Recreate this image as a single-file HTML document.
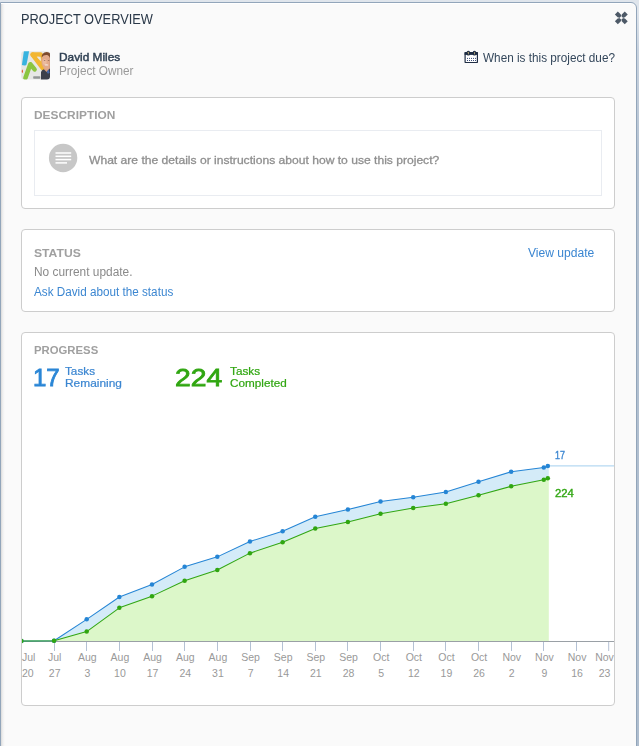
<!DOCTYPE html>
<html><head><meta charset="utf-8"><title>Project Overview</title>
<style>
html,body{margin:0;padding:0}
body{width:639px;height:746px;overflow:hidden;position:relative;background:#dfe5ec;font-family:"Liberation Sans", sans-serif}
.panel{position:absolute;left:0;top:2px;width:635px;height:760px;border:1px solid #92a5ba;border-top-right-radius:6px;background:#fafafa;box-shadow:inset 0 1px 0 #fff}
.edge{position:absolute;left:637px;top:0;width:2px;height:746px;background:linear-gradient(#dfe5ec 0,#dfe5ec 12px,#c9d3df 50px,#b3c1d1 160px,#aebdce 100%)}
.lsh{position:absolute;left:1px;top:4px;width:4px;height:742px;background:linear-gradient(90deg,rgba(0,0,0,.13),rgba(0,0,0,.04) 45%,rgba(0,0,0,0))}
.card{position:absolute;left:21px;width:592px;border:1px solid #cdcdcd;border-radius:4px;background:#fff}
.inner{position:absolute;left:34px;top:130px;width:566px;height:64px;border:1px solid #e9ecf1;background:#fff}
.ax{position:absolute;left:0;top:645px;width:614px;height:40px;overflow:hidden}
.t{position:absolute;white-space:nowrap;transform-origin:0 0;display:block}
svg{position:absolute;left:0;top:0}
</style></head>
<body>
<div class="panel"></div>
<div class="edge"></div>
<div class="lsh"></div>
<div class="card" style="top:97px;height:110px"></div>
<div class="inner"></div>
<div class="card" style="top:229px;height:81px"></div>
<div class="card" style="top:332px;height:372px"></div>
<svg width="639" height="746" viewBox="0 0 639 746">
<defs><clipPath id="cc"><rect x="22" y="333" width="592" height="372"/></clipPath></defs>
<g clip-path="url(#cc)">
<polygon points="21.40,640.95 54.05,640.75 86.70,631.55 119.35,607.85 152.00,596.15 184.65,580.75 217.30,570.05 249.95,553.15 282.60,542.15 315.25,528.45 347.90,521.90 380.55,513.85 413.20,508.05 445.85,503.75 478.50,495.15 511.15,486.35 543.80,479.85 547.80,478.30 548.8,478.30 548.8,641.5 21.5,641.5" fill="#dcf7c9"/>
<polygon points="21.40,640.95 54.05,640.75 86.70,619.35 119.35,596.95 152.00,584.45 184.65,566.85 217.30,556.85 249.95,541.45 282.60,531.25 315.25,516.85 347.90,509.60 380.55,501.45 413.20,497.15 445.85,492.00 478.50,481.85 511.15,471.75 543.80,467.45 547.80,465.90 548.8,465.90 548.8,478.30 547.80,478.30 543.80,479.85 511.15,486.35 478.50,495.15 445.85,503.75 413.20,508.05 380.55,513.85 347.90,521.90 315.25,528.45 282.60,542.15 249.95,553.15 217.30,570.05 184.65,580.75 152.00,596.15 119.35,607.85 86.70,631.55 54.05,640.75 21.40,640.95" fill="#d4ebf8"/>
<line x1="548" y1="465.90" x2="614" y2="465.90" stroke="#b6d9f2" stroke-width="1.2"/>
<line x1="22" y1="641.5" x2="614" y2="641.5" stroke="#9aa0a6" stroke-width="1"/>
<line x1="54.5" y1="642" x2="54.5" y2="651" stroke="#b4c1d4" stroke-width="1"/>
<line x1="86.5" y1="642" x2="86.5" y2="651" stroke="#b4c1d4" stroke-width="1"/>
<line x1="119.5" y1="642" x2="119.5" y2="651" stroke="#b4c1d4" stroke-width="1"/>
<line x1="152.5" y1="642" x2="152.5" y2="651" stroke="#b4c1d4" stroke-width="1"/>
<line x1="184.5" y1="642" x2="184.5" y2="651" stroke="#b4c1d4" stroke-width="1"/>
<line x1="217.5" y1="642" x2="217.5" y2="651" stroke="#b4c1d4" stroke-width="1"/>
<line x1="250.5" y1="642" x2="250.5" y2="651" stroke="#b4c1d4" stroke-width="1"/>
<line x1="282.5" y1="642" x2="282.5" y2="651" stroke="#b4c1d4" stroke-width="1"/>
<line x1="315.5" y1="642" x2="315.5" y2="651" stroke="#b4c1d4" stroke-width="1"/>
<line x1="347.5" y1="642" x2="347.5" y2="651" stroke="#b4c1d4" stroke-width="1"/>
<line x1="380.5" y1="642" x2="380.5" y2="651" stroke="#b4c1d4" stroke-width="1"/>
<line x1="413.5" y1="642" x2="413.5" y2="651" stroke="#b4c1d4" stroke-width="1"/>
<line x1="445.5" y1="642" x2="445.5" y2="651" stroke="#b4c1d4" stroke-width="1"/>
<line x1="478.5" y1="642" x2="478.5" y2="651" stroke="#b4c1d4" stroke-width="1"/>
<line x1="511.5" y1="642" x2="511.5" y2="651" stroke="#b4c1d4" stroke-width="1"/>
<line x1="543.5" y1="642" x2="543.5" y2="651" stroke="#b4c1d4" stroke-width="1"/>
<line x1="576.5" y1="642" x2="576.5" y2="651" stroke="#b4c1d4" stroke-width="1"/>
<line x1="608.7" y1="642" x2="608.7" y2="651" stroke="#b4c1d4" stroke-width="1"/>
<polyline points="21.40,640.95 54.05,640.75 86.70,619.35 119.35,596.95 152.00,584.45 184.65,566.85 217.30,556.85 249.95,541.45 282.60,531.25 315.25,516.85 347.90,509.60 380.55,501.45 413.20,497.15 445.85,492.00 478.50,481.85 511.15,471.75 543.80,467.45 547.80,465.90" fill="none" stroke="#2585d5" stroke-width="1.05" stroke-linejoin="round"/>
<polyline points="21.40,640.95 54.05,640.75 86.70,631.55 119.35,607.85 152.00,596.15 184.65,580.75 217.30,570.05 249.95,553.15 282.60,542.15 315.25,528.45 347.90,521.90 380.55,513.85 413.20,508.05 445.85,503.75 478.50,495.15 511.15,486.35 543.80,479.85 547.80,478.30" fill="none" stroke="#30a611" stroke-width="1.05" stroke-linejoin="round"/>
<circle cx="21.40" cy="640.95" r="2.25" fill="#2585d5"/>
<circle cx="54.05" cy="640.75" r="2.25" fill="#2585d5"/>
<circle cx="86.70" cy="619.35" r="2.25" fill="#2585d5"/>
<circle cx="119.35" cy="596.95" r="2.25" fill="#2585d5"/>
<circle cx="152.00" cy="584.45" r="2.25" fill="#2585d5"/>
<circle cx="184.65" cy="566.85" r="2.25" fill="#2585d5"/>
<circle cx="217.30" cy="556.85" r="2.25" fill="#2585d5"/>
<circle cx="249.95" cy="541.45" r="2.25" fill="#2585d5"/>
<circle cx="282.60" cy="531.25" r="2.25" fill="#2585d5"/>
<circle cx="315.25" cy="516.85" r="2.25" fill="#2585d5"/>
<circle cx="347.90" cy="509.60" r="2.25" fill="#2585d5"/>
<circle cx="380.55" cy="501.45" r="2.25" fill="#2585d5"/>
<circle cx="413.20" cy="497.15" r="2.25" fill="#2585d5"/>
<circle cx="445.85" cy="492.00" r="2.25" fill="#2585d5"/>
<circle cx="478.50" cy="481.85" r="2.25" fill="#2585d5"/>
<circle cx="511.15" cy="471.75" r="2.25" fill="#2585d5"/>
<circle cx="543.80" cy="467.45" r="2.25" fill="#2585d5"/>
<circle cx="547.80" cy="465.90" r="2.25" fill="#2585d5"/>
<circle cx="21.40" cy="640.95" r="2.25" fill="#30a611"/>
<circle cx="54.05" cy="640.75" r="2.25" fill="#30a611"/>
<circle cx="86.70" cy="631.55" r="2.25" fill="#30a611"/>
<circle cx="119.35" cy="607.85" r="2.25" fill="#30a611"/>
<circle cx="152.00" cy="596.15" r="2.25" fill="#30a611"/>
<circle cx="184.65" cy="580.75" r="2.25" fill="#30a611"/>
<circle cx="217.30" cy="570.05" r="2.25" fill="#30a611"/>
<circle cx="249.95" cy="553.15" r="2.25" fill="#30a611"/>
<circle cx="282.60" cy="542.15" r="2.25" fill="#30a611"/>
<circle cx="315.25" cy="528.45" r="2.25" fill="#30a611"/>
<circle cx="347.90" cy="521.90" r="2.25" fill="#30a611"/>
<circle cx="380.55" cy="513.85" r="2.25" fill="#30a611"/>
<circle cx="413.20" cy="508.05" r="2.25" fill="#30a611"/>
<circle cx="445.85" cy="503.75" r="2.25" fill="#30a611"/>
<circle cx="478.50" cy="495.15" r="2.25" fill="#30a611"/>
<circle cx="511.15" cy="486.35" r="2.25" fill="#30a611"/>
<circle cx="543.80" cy="479.85" r="2.25" fill="#30a611"/>
<circle cx="547.80" cy="478.30" r="2.25" fill="#30a611"/>
</g>
<!-- close icon -->
<g transform="translate(621.3,17.9) rotate(45)" fill="#4d5967">
<rect x="-7" y="-2.1" width="14" height="4.2"/><rect x="-2.1" y="-7" width="4.2" height="14"/>
<g fill="#fafafa">
<rect x="-1.3" y="-1.3" width="2.6" height="2.6"/>
<path d="M2.9 2.1 L2.1 2.9 L1 1 Z"/><path d="M-2.9 2.1 L-2.1 2.9 L-1 1 Z"/>
<path d="M2.9 -2.1 L2.1 -2.9 L1 -1 Z"/><path d="M-2.9 -2.1 L-2.1 -2.9 L-1 -1 Z"/>
</g>
</g>
<!-- calendar icon -->
<g>
<rect x="465.1" y="52.6" width="12.3" height="9.9" rx="0.6" fill="#fff" stroke="#1f2d44" stroke-width="1.2"/>
<rect x="464.6" y="52.1" width="13.3" height="2.8" fill="#1f2d44"/>
<rect x="466.6" y="50.7" width="3.5" height="4.9" rx="1.7" fill="#1f2d44"/>
<rect x="472.7" y="50.7" width="3.5" height="4.9" rx="1.7" fill="#1f2d44"/>
<rect x="467.95" y="51.8" width="0.8" height="2.7" rx="0.4" fill="#c9b77a"/>
<rect x="474.05" y="51.8" width="0.8" height="2.7" rx="0.4" fill="#c9b77a"/>
<g fill="#3a4d78">
<rect x="467" y="57.9" width="1" height="1"/><rect x="469" y="57.9" width="1" height="1"/><rect x="471" y="57.9" width="1" height="1"/><rect x="473" y="57.9" width="1" height="1"/><rect x="475" y="57.9" width="1" height="1"/>
<rect x="467" y="60" width="1" height="1"/><rect x="469" y="60" width="1" height="1"/><rect x="471" y="60" width="1" height="1"/><rect x="473" y="60" width="1" height="1"/><rect x="475" y="60" width="1" height="1"/>
</g>
</g>
<!-- description circle icon -->
<circle cx="63.1" cy="158" r="14.2" fill="#c7c7c7"/>
<g stroke="#fff" stroke-width="1.5">
<line x1="55.5" y1="153" x2="71.2" y2="153"/><line x1="55.5" y1="156.3" x2="71.2" y2="156.3"/>
<line x1="55.5" y1="159.6" x2="71.2" y2="159.6"/><line x1="55.5" y1="162.9" x2="67" y2="162.9"/>
</g>

<!-- avatar -->
<defs>
<clipPath id="av"><rect x="21.2" y="51.2" width="28.8" height="28.3" rx="3"/></clipPath>
<filter id="bl" x="-10%" y="-10%" width="120%" height="120%"><feGaussianBlur stdDeviation="0.5"/></filter>
</defs>
<g clip-path="url(#av)">
<g transform="translate(21.2,51.2)" filter="url(#bl)">
<rect x="-2" y="-2" width="33" height="33" fill="#e7e7e5"/>
<!-- blue bar -->
<path d="M2.8 -1 L8.1 -1 L5.4 13 Q4.9 14.4 3.2 14.2 L0.7 13.8 Z" fill="#38b3df"/>
<!-- orange arrow -->
<path d="M11.3 3.3 L19.5 3.3 L22.6 16.5" fill="none" stroke="#f2b632" stroke-width="4.4" stroke-linecap="round" stroke-linejoin="round"/>
<path d="M11.6 3.6 L21.6 17" fill="none" stroke="#f2b632" stroke-width="4.6" stroke-linecap="round"/>
<path d="M15.6 5.6 L19.4 5.5 L20 10.2 Z" fill="#e7e7e5"/>
<!-- green chevron -->
<path d="M4.2 26.8 L9.1 13 L13.4 18.2" fill="none" stroke="#8bc53f" stroke-width="4.5" stroke-linecap="round" stroke-linejoin="round"/>
<!-- red dot -->
<ellipse cx="1.1" cy="20" rx="0.6" ry="1.7" fill="#e2562b"/>
<!-- che text -->
<rect x="12" y="25" width="7" height="2.5" rx=".6" fill="#6f7475" opacity="0.7"/>
<!-- man: face -->
<rect x="23" y="14" width="6" height="8" fill="#d99f80"/>
<ellipse cx="25.8" cy="9.8" rx="5.6" ry="8.6" fill="#e2aa8b"/>
<ellipse cx="23.4" cy="10.8" rx="2" ry="3" fill="#eebfa3" opacity=".8"/>
<rect x="28.2" y="3" width="2" height="15" fill="#c58b6c" opacity=".55"/>
<!-- hair -->
<path d="M20.4 6.2 Q20.2 1.2 25.6 0.7 Q29 0.8 30.5 3 L30.5 9 L29.2 8.8 Q28.8 5 26 3.9 Q22.5 3.4 20.4 6.2 Z" fill="#7d4c2d"/>
<!-- eyes / mouth -->
<ellipse cx="23.4" cy="9.2" rx=".9" ry=".45" fill="#5b3b2c" opacity=".75"/>
<ellipse cx="27.4" cy="9.2" rx=".9" ry=".45" fill="#5b3b2c" opacity=".75"/>
<ellipse cx="25.3" cy="13.7" rx="1.9" ry=".7" fill="#f4e8e0"/>
<!-- suit -->
<path d="M19.7 30 L19.8 20.8 Q20.6 18.4 22.6 18 L25.4 20.8 L28.2 17.6 L31 17.2 L31 30 Z" fill="#3b414c"/>
<path d="M25.4 20.8 L27.4 18.3 L28.4 21.6 L26.8 22.6 Z" fill="#4569ab"/>
</g>
</g>

</svg>
<span class="t" style="left:21.15px;top:12.15px;font-size:14px;line-height:14px;font-weight:400;color:#2a3848;transform:scaleX(0.9150)">PROJECT OVERVIEW</span>
<span class="t" style="left:58.90px;top:51.52px;font-size:11.5px;line-height:11.5px;font-weight:400;color:#2f4053;-webkit-text-stroke:0.45px #2f4053;transform:scaleX(1.0305)">David Miles</span>
<span class="t" style="left:58.90px;top:65.09px;font-size:12px;line-height:12px;font-weight:400;color:#9a9a9a;transform:scaleX(0.9799)">Project Owner</span>
<span class="t" style="left:482.65px;top:51.84px;font-size:12px;line-height:12px;font-weight:400;color:#34475b;transform:scaleX(0.9796)">When is this project due?</span>
<span class="t" style="left:33.90px;top:109.94px;font-size:11px;line-height:11px;font-weight:700;color:#a0a0a0;transform:scaleX(1.0814)">DESCRIPTION</span>
<span class="t" style="left:88.65px;top:154.87px;font-size:11.5px;line-height:11.5px;font-weight:400;color:#8f8f8f;-webkit-text-stroke:0.3px #8f8f8f;transform:scaleX(1.0517)">What are the details or instructions about how to use this project?</span>
<span class="t" style="left:33.90px;top:247.69px;font-size:11px;line-height:11px;font-weight:700;color:#a0a0a0;transform:scaleX(1.1044)">STATUS</span>
<span class="t" style="left:33.60px;top:266.09px;font-size:12px;line-height:12px;font-weight:400;color:#8a8a8a;transform:scaleX(0.9906)">No current update.</span>
<span class="t" style="left:33.90px;top:285.84px;font-size:12px;line-height:12px;font-weight:400;color:#3b86d1;transform:scaleX(0.9755)">Ask David about the status</span>
<span class="t" style="left:527.60px;top:246.84px;font-size:12px;line-height:12px;font-weight:400;color:#3b86d1;transform:scaleX(1.0069)">View update</span>
<span class="t" style="left:33.80px;top:344.79px;font-size:11px;line-height:11px;font-weight:700;color:#a0a0a0;transform:scaleX(1.0295)">PROGRESS</span>
<span class="t" style="left:32.80px;top:365.78px;font-size:24px;line-height:24px;font-weight:400;color:#2a86d6;-webkit-text-stroke:0.8px #2a86d6;transform:scaleX(1.0018)">17</span>
<span class="t" style="left:65.30px;top:366.21px;font-size:10.5px;line-height:10.5px;font-weight:400;color:#3b86d1;-webkit-text-stroke:0.2px #3b86d1;transform:scaleX(1.1176)">Tasks</span>
<span class="t" style="left:65.40px;top:377.51px;font-size:10.5px;line-height:10.5px;font-weight:400;color:#3b86d1;-webkit-text-stroke:0.2px #3b86d1;transform:scaleX(1.1337)">Remaining</span>
<span class="t" style="left:175.00px;top:365.78px;font-size:24px;line-height:24px;font-weight:400;color:#30a611;-webkit-text-stroke:0.8px #30a611;transform:scaleX(1.1774)">224</span>
<span class="t" style="left:229.70px;top:366.21px;font-size:10.5px;line-height:10.5px;font-weight:400;color:#30a611;-webkit-text-stroke:0.2px #30a611;transform:scaleX(1.1213)">Tasks</span>
<span class="t" style="left:229.50px;top:377.51px;font-size:10.5px;line-height:10.5px;font-weight:400;color:#30a611;-webkit-text-stroke:0.2px #30a611;transform:scaleX(1.1166)">Completed</span>
<span class="t" style="left:555.00px;top:450.41px;font-size:10.5px;line-height:10.5px;font-weight:400;color:#3b86d1;-webkit-text-stroke:0.35px #3b86d1;transform:scaleX(0.8525)">17</span>
<span class="t" style="left:554.60px;top:488.31px;font-size:10.5px;line-height:10.5px;font-weight:400;color:#30a611;-webkit-text-stroke:0.35px #30a611;transform:scaleX(1.0724)">224</span>
<div class="ax">
<span class="t" style="left:22.00px;top:7.11px;font-size:10.5px;line-height:10.5px;color:#999;transform:scaleX(1.0)">Jul</span>
<span class="t" style="left:22.00px;top:23.11px;font-size:10.5px;line-height:10.5px;color:#999;transform:scaleX(1.0)">20</span>
<span class="t" style="left:47.93px;top:7.11px;font-size:10.5px;line-height:10.5px;color:#999;transform:scaleX(1.0)">Jul</span>
<span class="t" style="left:48.81px;top:23.11px;font-size:10.5px;line-height:10.5px;color:#999;transform:scaleX(1.0)">27</span>
<span class="t" style="left:77.96px;top:7.11px;font-size:10.5px;line-height:10.5px;color:#999;transform:scaleX(1.0)">Aug</span>
<span class="t" style="left:84.38px;top:23.11px;font-size:10.5px;line-height:10.5px;color:#999;transform:scaleX(1.0)">3</span>
<span class="t" style="left:110.61px;top:7.11px;font-size:10.5px;line-height:10.5px;color:#999;transform:scaleX(1.0)">Aug</span>
<span class="t" style="left:114.11px;top:23.11px;font-size:10.5px;line-height:10.5px;color:#999;transform:scaleX(1.0)">10</span>
<span class="t" style="left:143.26px;top:7.11px;font-size:10.5px;line-height:10.5px;color:#999;transform:scaleX(1.0)">Aug</span>
<span class="t" style="left:146.76px;top:23.11px;font-size:10.5px;line-height:10.5px;color:#999;transform:scaleX(1.0)">17</span>
<span class="t" style="left:175.91px;top:7.11px;font-size:10.5px;line-height:10.5px;color:#999;transform:scaleX(1.0)">Aug</span>
<span class="t" style="left:179.41px;top:23.11px;font-size:10.5px;line-height:10.5px;color:#999;transform:scaleX(1.0)">24</span>
<span class="t" style="left:208.56px;top:7.11px;font-size:10.5px;line-height:10.5px;color:#999;transform:scaleX(1.0)">Aug</span>
<span class="t" style="left:212.06px;top:23.11px;font-size:10.5px;line-height:10.5px;color:#999;transform:scaleX(1.0)">31</span>
<span class="t" style="left:241.21px;top:7.11px;font-size:10.5px;line-height:10.5px;color:#999;transform:scaleX(1.0)">Sep</span>
<span class="t" style="left:247.63px;top:23.11px;font-size:10.5px;line-height:10.5px;color:#999;transform:scaleX(1.0)">7</span>
<span class="t" style="left:273.86px;top:7.11px;font-size:10.5px;line-height:10.5px;color:#999;transform:scaleX(1.0)">Sep</span>
<span class="t" style="left:277.36px;top:23.11px;font-size:10.5px;line-height:10.5px;color:#999;transform:scaleX(1.0)">14</span>
<span class="t" style="left:306.51px;top:7.11px;font-size:10.5px;line-height:10.5px;color:#999;transform:scaleX(1.0)">Sep</span>
<span class="t" style="left:310.01px;top:23.11px;font-size:10.5px;line-height:10.5px;color:#999;transform:scaleX(1.0)">21</span>
<span class="t" style="left:339.16px;top:7.11px;font-size:10.5px;line-height:10.5px;color:#999;transform:scaleX(1.0)">Sep</span>
<span class="t" style="left:342.66px;top:23.11px;font-size:10.5px;line-height:10.5px;color:#999;transform:scaleX(1.0)">28</span>
<span class="t" style="left:372.98px;top:7.11px;font-size:10.5px;line-height:10.5px;color:#999;transform:scaleX(1.0)">Oct</span>
<span class="t" style="left:378.23px;top:23.11px;font-size:10.5px;line-height:10.5px;color:#999;transform:scaleX(1.0)">5</span>
<span class="t" style="left:405.63px;top:7.11px;font-size:10.5px;line-height:10.5px;color:#999;transform:scaleX(1.0)">Oct</span>
<span class="t" style="left:407.96px;top:23.11px;font-size:10.5px;line-height:10.5px;color:#999;transform:scaleX(1.0)">12</span>
<span class="t" style="left:438.28px;top:7.11px;font-size:10.5px;line-height:10.5px;color:#999;transform:scaleX(1.0)">Oct</span>
<span class="t" style="left:440.61px;top:23.11px;font-size:10.5px;line-height:10.5px;color:#999;transform:scaleX(1.0)">19</span>
<span class="t" style="left:470.93px;top:7.11px;font-size:10.5px;line-height:10.5px;color:#999;transform:scaleX(1.0)">Oct</span>
<span class="t" style="left:473.26px;top:23.11px;font-size:10.5px;line-height:10.5px;color:#999;transform:scaleX(1.0)">26</span>
<span class="t" style="left:502.41px;top:7.11px;font-size:10.5px;line-height:10.5px;color:#999;transform:scaleX(1.0)">Nov</span>
<span class="t" style="left:508.83px;top:23.11px;font-size:10.5px;line-height:10.5px;color:#999;transform:scaleX(1.0)">2</span>
<span class="t" style="left:535.06px;top:7.11px;font-size:10.5px;line-height:10.5px;color:#999;transform:scaleX(1.0)">Nov</span>
<span class="t" style="left:541.48px;top:23.11px;font-size:10.5px;line-height:10.5px;color:#999;transform:scaleX(1.0)">9</span>
<span class="t" style="left:567.71px;top:7.11px;font-size:10.5px;line-height:10.5px;color:#999;transform:scaleX(1.0)">Nov</span>
<span class="t" style="left:571.21px;top:23.11px;font-size:10.5px;line-height:10.5px;color:#999;transform:scaleX(1.0)">16</span>
<span class="t" style="left:595.16px;top:7.11px;font-size:10.5px;line-height:10.5px;color:#999;transform:scaleX(1.0)">Nov</span>
<span class="t" style="left:598.66px;top:23.11px;font-size:10.5px;line-height:10.5px;color:#999;transform:scaleX(1.0)">23</span>
</div>
</body></html>
